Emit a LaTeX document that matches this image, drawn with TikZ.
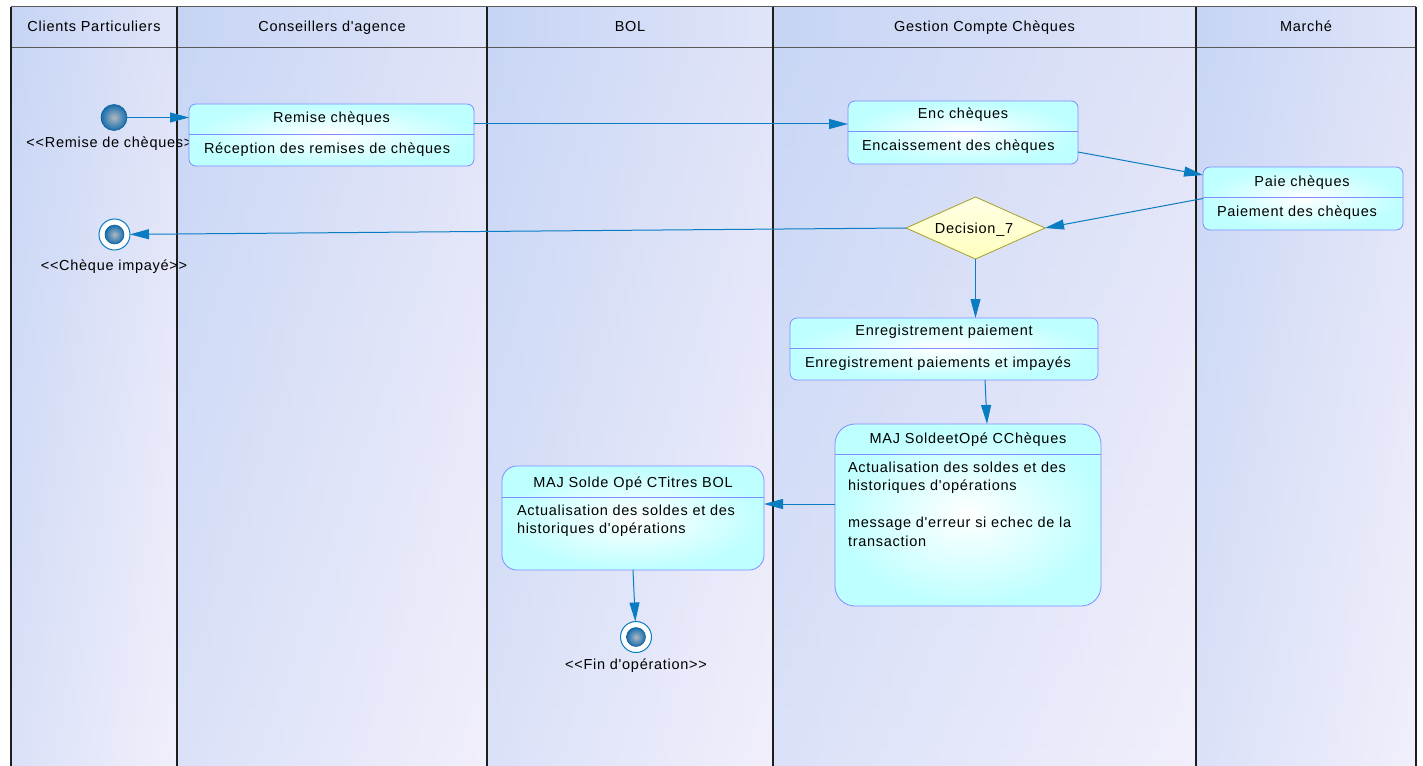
\documentclass[tikz,border=0pt]{standalone}
\usepackage{fontspec}
\setmainfont{Liberation Sans}[LetterSpace=5, Ligatures=TeXOff]
\usetikzlibrary{arrows.meta,shapes.geometric}

\definecolor{laneTL}{RGB}{200,214,245}
\definecolor{laneTR}{RGB}{225,228,248}
\definecolor{laneBL}{RGB}{218,225,248}
\definecolor{laneBR}{RGB}{241,239,251}
\definecolor{headA}{RGB}{198,212,244}
\definecolor{headB}{RGB}{224,229,249}
\definecolor{boxline}{RGB}{128,140,255}
\definecolor{boxfill}{RGB}{190,255,255}
\definecolor{flowcol}{RGB}{10,125,194}
\definecolor{decline}{RGB}{165,160,40}
\definecolor{decfill}{RGB}{255,255,190}
\definecolor{ballin}{RGB}{178,184,192}
\definecolor{ballout}{RGB}{20,110,175}

\begin{document}
\begin{tikzpicture}[x=1pt,y=-1pt,
  every node/.style={font=\fontsize{14.5}{18}\selectfont, inner sep=0pt, outer sep=0pt},
  lanehead/.style={left color=headA, right color=headB},
  sepline/.style={draw={rgb,255:red,30;green,30;blue,30}, line width=1.2pt},
  hline/.style={draw={rgb,255:red,90;green,90;blue,90}, line width=1pt},
  act/.style={draw=boxline, line width=0.8pt, inner color=white, outer color=boxfill,
              rounded corners=7pt, minimum height=62pt},
  divider/.style={draw=boxline, line width=0.8pt},
  title/.style={anchor=base},
  body/.style={anchor=base west},
  tag/.style={anchor=base},
  link/.style={draw=flowcol, line width=1pt, -{Triangle[length=19pt,width=10pt]}},
  startball/.style={circle, minimum size=26pt, inner color=ballin, outer color=ballout,
                    draw=ballout!85!black, line width=0.6pt},
  endring/.style={circle, minimum size=31pt, fill=white, draw=flowcol, line width=1pt},
  endball/.style={circle, minimum size=19pt, inner color=ballin, outer color=ballout,
                  draw=ballout!85!black, line width=0.5pt},
  decision/.style={diamond, draw=decline, line width=0.8pt, top color=white!60!decfill,
                   bottom color=decfill, minimum width=139pt, minimum height=62pt}
]
\useasboundingbox (0,0) rectangle (1423,765);

% swimlanes: each body is built from thin bands, shaded left to right
% and growing paler towards the bottom
\foreach \a/\b in {11/177,177/487,487/773,773/1196,1196/1416}{
  \foreach \i in {0,...,35}{
    \pgfmathsetmacro\t{100*\i/35}
    \shade[left color=laneBL!\t!laneTL, right color=laneBR!\t!laneTR]
      (\a,48+20*\i) rectangle (\b,69+20*\i);
  }
  \shade[lanehead] (\a,7) rectangle (\b,48);
}
\draw[hline] (11,7) -- (1416,7);
\draw[hline] (11,48) -- (1416,48);
\foreach \x in {11,177,487,773,1196,1416}
  \draw[sepline] (\x,7) -- (\x,766);

\node[title] (hClients) at (94,32) {Clients Particuliers};
\node[title] (hConseil) at (332,32) {Conseillers d'agence};
\node[title] (hBol)     at (630,32) {BOL};
\node[title] (hGestion) at (984.5,32) {Gestion Compte Chèques};
\node[title] (hMarche)  at (1306,32) {Marché};

% initial and final states with their tags
\node[startball] (init) at (114,117.5) {};
\node[tag] (initTag) at (114,147) {<<Remise de chèques>>};

\node[endring] (impaye) at (114.5,234.5) {};
\node[endball] (impayeIn) at (impaye.center) {};
\node[tag] (impayeTag) at (114,270) {<<Chèque impayé>>};

\node[endring] (fin) at (636,637) {};
\node[endball] (finIn) at (fin.center) {};
\node[tag] (finTag) at (636,669.5) {<<Fin d'opération>>};

% activities
\node[act, minimum width=285pt] (remise) at (331.5,135) {};
\draw[divider] ([yshift=-30pt]remise.north west) -- ([yshift=-30pt]remise.north east);
\node[title] (remiseT) at (331.5,123) {Remise chèques};
\node[body]  (remiseB) at (204,153) {Réception des remises de chèques};

\node[act, minimum width=230pt, minimum height=63pt] (enc) at (963,132.5) {};
\draw[divider] ([yshift=-30pt]enc.north west) -- ([yshift=-30pt]enc.north east);
\node[title] (encT) at (963,119) {Enc chèques};
\node[body]  (encB) at (862,150) {Encaissement des chèques};

\node[act, minimum width=200pt, minimum height=63pt] (paie) at (1303,198.5) {};
\draw[divider] ([yshift=-30pt]paie.north west) -- ([yshift=-30pt]paie.north east);
\node[title] (paieT) at (1302,186) {Paie chèques};
\node[body]  (paieB) at (1217,216) {Paiement des chèques};

\node[decision] (dec) at (975.5,228) {};
\node[title] (decT) at (974,233) {Decision\_7};

\node[act, minimum width=308pt] (enreg) at (944,349) {};
\draw[divider] ([yshift=-30pt]enreg.north west) -- ([yshift=-30pt]enreg.north east);
\node[title] (enregT) at (944,335) {Enregistrement paiement};
\node[body]  (enregB) at (805,367) {Enregistrement paiements et impayés};

\node[act, minimum width=266pt, minimum height=182pt, rounded corners=20pt] (majcc) at (968,515) {};
\draw[divider] ([yshift=-30pt]majcc.north west) -- ([yshift=-30pt]majcc.north east);
\node[title] (majccT)  at (968,443) {MAJ SoldeetOpé CChèques};
\node[body]  (majccB1) at (848,472) {Actualisation des soldes et des};
\node[body]  (majccB2) at (848,490) {historiques d'opérations};
\node[body]  (majccB3) at (848,527) {message d'erreur si echec de la};
\node[body]  (majccB4) at (848,546) {transaction};

\node[act, minimum width=262pt, minimum height=104pt, rounded corners=15pt] (majbol) at (633,518) {};
\draw[divider] ([yshift=-31pt]majbol.north west) -- ([yshift=-31pt]majbol.north east);
\node[title] (majbolT)  at (633,487) {MAJ Solde Opé CTitres BOL};
\node[body]  (majbolB1) at (517,515) {Actualisation des soldes et des};
\node[body]  (majbolB2) at (517,533) {historiques d'opérations};

% transitions
\draw[link] (init) -- (init -| remise.west);
\draw[link] (remise.east |- 0,124) -- (enc.west |- 0,124);
\draw[link] (enc.east |- 0,152) -- (paie.west |- 0,175);
\draw[link] (paie.west) -- (dec.east);
\draw[link] (dec.west) -- (impaye);
\draw[link] (dec.south) -- (dec.south |- enreg.north);
\draw[link] ([xshift=41pt]enreg.south) -- ([xshift=19pt]majcc.north);
\draw[link] (majcc.west |- 0,504) -- (majbol.east |- 0,504);
\draw[link] (majbol.south) -- (fin);
\end{tikzpicture}
\end{document}
